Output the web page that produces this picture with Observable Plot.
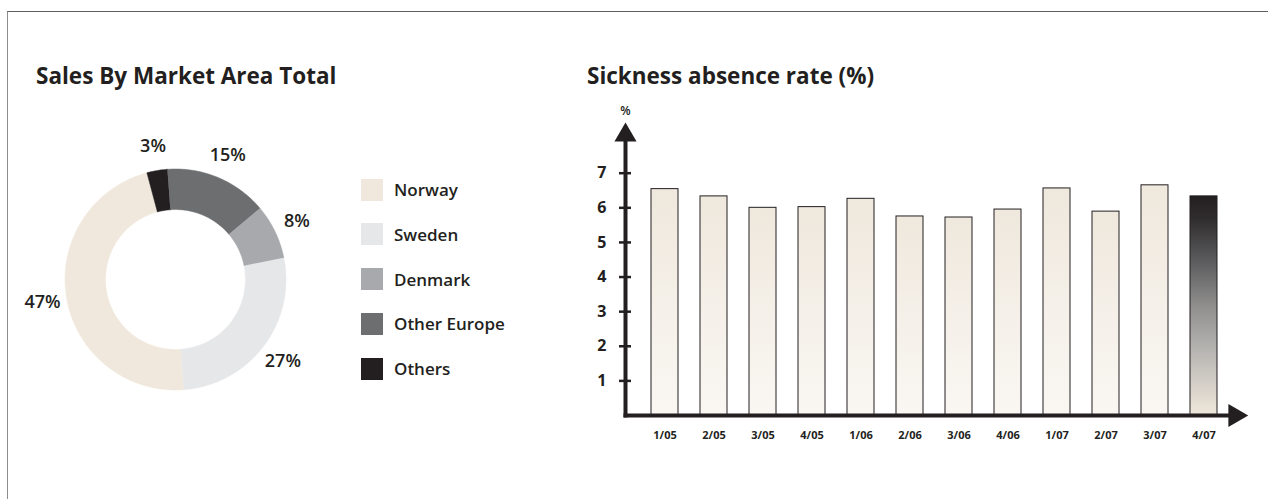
<!DOCTYPE html>
<html>
<head>
<meta charset="utf-8">
<script src="https://cdn.jsdelivr.net/npm/d3@7"></script>
<script src="https://cdn.jsdelivr.net/npm/@observablehq/plot@0.6"></script>
<style>
  body { margin: 0; background: #fff; font-family: "Open Sans", sans-serif; color: #231f20; }
  #wrap { position: relative; width: 1268px; height: 499px; overflow: hidden; background: #fff; }
  #border { position: absolute; left: 7px; top: 11px; width: 1400px; height: 700px;
            border-top: 1.5px solid #5f5f61; border-left: 1.5px solid #8c8c8c; }
  .title { position: absolute; font-weight: 700; font-size: 22.5px; line-height: 23px; white-space: nowrap; color: #231f20; }
  .plotbox { position: absolute; top: 0; left: 0; }
  .lg { position: absolute; left: 361px; display: flex; align-items: center; font-weight: 600; font-size: 17px; white-space: nowrap; }
  .lg .sw { width: 22px; height: 22px; margin-right: 11px; }
</style>
</head>
<body>
<svg width="0" height="0" style="position:absolute">
  <defs>
    <linearGradient id="barFill" x1="0" y1="0" x2="0" y2="1">
      <stop offset="0" stop-color="#efe8dd"/>
      <stop offset="1" stop-color="#faf7f3"/>
    </linearGradient>
    <linearGradient id="lastFill" x1="0" y1="0" x2="0" y2="1">
      <stop offset="0" stop-color="#231f20"/>
      <stop offset="0.1" stop-color="#2f2c2d"/>
      <stop offset="0.3" stop-color="#5c5c5e"/>
      <stop offset="0.5" stop-color="#8f8e8d"/>
      <stop offset="0.7" stop-color="#b6b4b1"/>
      <stop offset="0.9" stop-color="#dcd6cd"/>
      <stop offset="1" stop-color="#efe8dc"/>
    </linearGradient>
  </defs>
</svg>
<div id="wrap">
  <div id="border"></div>
  <div class="title" style="left:36px;top:64px">Sales By Market Area Total</div>
  <div class="title" style="left:587px;top:64px">Sickness absence rate (%)</div>
  <div id="legend"></div>
  <div id="donut" class="plotbox"></div>
  <div id="bars" class="plotbox"></div>
</div>
<script>
// ---- data ----
const areas = ["Norway", "Sweden", "Denmark", "Other Europe", "Others"];
const shares = [47, 27, 8, 15, 3];
const areaColors = ["#f0e8dc", "#e6e7e8", "#a7a9ac", "#6d6e70", "#231f20"];

const quarters = ["1/05", "2/05", "3/05", "4/05", "1/06", "2/06", "3/06", "4/06", "1/07", "2/07", "3/07", "4/07"];
const absence = [6.54, 6.33, 6.0, 6.02, 6.26, 5.75, 5.72, 5.95, 6.56, 5.89, 6.65, 6.33];
const yTicks = [1, 2, 3, 4, 5, 6, 7];

// ---- donut geometry from shares ----
const total = d3.sum(shares);
const startAngle = -15 * Math.PI / 180; // measured clockwise from top; slices run counter-clockwise
const innerRatio = 0.633;
const labelRadius = 1.22;
const ringPts = [];
const labelPts = [];
let acc = 0;
shares.forEach((v, i) => {
  const a0 = startAngle - acc / total * 2 * Math.PI;
  const a1 = startAngle - (acc + v) / total * 2 * Math.PI;
  acc += v;
  const n = Math.max(2, Math.ceil(Math.abs(a1 - a0) / (Math.PI / 180)));
  for (let k = 0; k <= n; k++) {
    const a = a0 + (a1 - a0) * k / n;
    ringPts.push({area: areas[i], x: Math.sin(a), y: Math.cos(a)});
  }
  for (let k = n; k >= 0; k--) {
    const a = a0 + (a1 - a0) * k / n;
    ringPts.push({area: areas[i], x: innerRatio * Math.sin(a), y: innerRatio * Math.cos(a)});
  }
  const am = (a0 + a1) / 2;
  labelPts.push({label: v + "%", x: labelRadius * Math.sin(am), y: labelRadius * Math.cos(am)});
});

const cx = 175, cy = 279, R = 110.5;
const donut = Plot.plot({
  width: 560, height: 499, margin: 0,
  style: {background: "transparent", fontFamily: "Open Sans", overflow: "visible"},
  x: {domain: [-1, 1], range: [cx - R, cx + R], axis: null},
  y: {domain: [-1, 1], range: [cy + R, cy - R], axis: null},
  color: {domain: areas, range: areaColors},
  marks: [
    Plot.line(ringPts, {x: "x", y: "y", z: "area", fill: "area", stroke: "area", strokeWidth: 0.5}),
    Plot.text(labelPts, {x: "x", y: "y", text: "label", fontSize: 18, fontWeight: 600, fill: "#231f20"})
  ]
});
document.getElementById("donut").append(donut);

// legend
const lg = document.getElementById("legend");
areas.forEach((a, i) => {
  const row = document.createElement("div");
  row.className = "lg";
  row.style.top = (178 + i * 44.8) + "px";
  const sw = document.createElement("div");
  sw.className = "sw";
  sw.style.background = areaColors[i];
  const t = document.createElement("span");
  t.textContent = a;
  row.append(sw, t);
  lg.append(row);
});

// ---- bar chart ----
const rows = quarters.map((q, i) => ({q, v: absence[i]}));
const lastQ = quarters[quarters.length - 1];
const bars = Plot.plot({
  width: 1268, height: 499,
  marginLeft: 625, marginRight: 38, marginTop: 140, marginBottom: 84,
  style: {background: "transparent", fontFamily: "Open Sans", color: "#231f20", overflow: "visible"},
  x: {domain: quarters, range: [627.3, 1239.8], padding: 0.45, axis: null},
  y: {domain: [0, 7], range: [415, 172.7], axis: null},
  marks: [
    Plot.barY(rows, {x: "q", y: "v", filter: d => d.q !== lastQ, fill: "url(#barFill)", stroke: "#231f20", strokeWidth: 1}),
    Plot.barY(rows, {x: "q", y: "v", filter: d => d.q === lastQ, fill: "url(#lastFill)", stroke: "#231f20", strokeWidth: 1}),
    Plot.frame({anchor: "left", stroke: "#231f20", strokeWidth: 4}),
    Plot.frame({anchor: "bottom", stroke: "#231f20", strokeWidth: 4}),
    Plot.dot([0], {frameAnchor: "top-left", symbol: "triangle", r: 8.2, fill: "#231f20", stroke: "none", dy: -5.3}),
    Plot.dot([0], {frameAnchor: "bottom-right", symbol: "triangle", rotate: 90, r: 8.5, fill: "#231f20", stroke: "none", dx: 4.5}),
    Plot.text(["%"], {frameAnchor: "top-left", textAnchor: "middle", lineAnchor: "middle", dy: -29, fontSize: 12, fontWeight: 600, fill: "#231f20"}),
    Plot.axisY(yTicks, {anchor: "left", tickSize: 12, dx: 6, tickPadding: 13, fontSize: 16, fontWeight: 700, strokeWidth: 2.5, stroke: "#231f20", fill: "#231f20", label: null}),
    Plot.axisX({tickSize: 0, tickPadding: 16, fontSize: 11, fontWeight: 700, fill: "#231f20", label: null})
  ]
});
document.getElementById("bars").append(bars);
</script>
</body>
</html>
